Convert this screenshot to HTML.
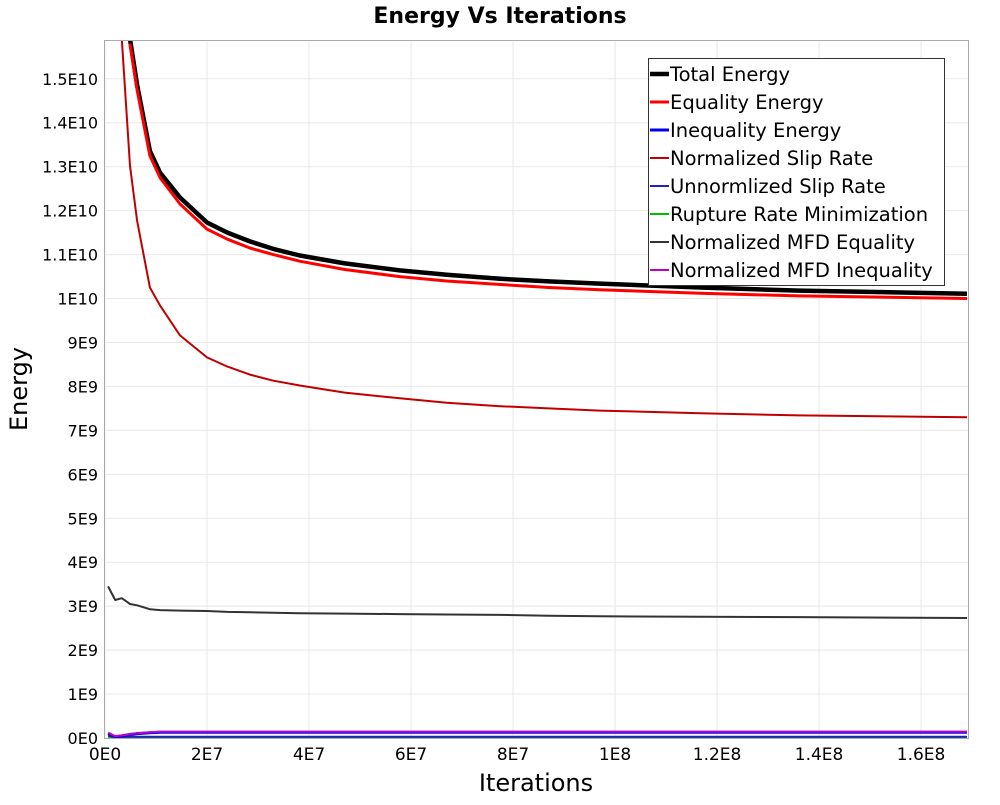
<!DOCTYPE html>
<html><head><meta charset="utf-8"><style>
body{margin:0;background:#fff;}
svg text{font-family:"DejaVu Sans","Liberation Sans",sans-serif;}
</style></head><body>
<svg id="chart" width="1000" height="800" xmlns="http://www.w3.org/2000/svg">
<rect width="1000" height="800" fill="#fff"/>
<text x="500" y="23" text-anchor="middle" font-size="22" font-weight="bold">Energy Vs Iterations</text>
<g id="grid"></g>
<g id="ticks"></g>
<g id="series"></g>
<rect x="104.5" y="40.5" width="864" height="698" fill="none" stroke="#aaa"/>
<text x="536" y="791" text-anchor="middle" font-size="24">Iterations</text>
<text transform="translate(27,389) rotate(-90)" text-anchor="middle" font-size="24">Energy</text>
<g id="legend"></g>
</svg>
<script>
const xs=[0.6,2,3.3,4.9,6.3,8.8,10.8,14.7,20,24,28.4,33,38.2,47,57.8,67,77.5,87,97,116.7,136,169];
const totalEnergy=[null,null,null,15.9,14.86,13.36,12.86,12.3,11.73,11.5,11.3,11.13,10.98,10.8,10.64,10.54,10.45,10.39,10.34,10.25,10.18,10.11];
const equalityEnergy=[null,null,null,15.8,14.75,13.25,12.75,12.15,11.58,11.35,11.15,11.0,10.85,10.66,10.5,10.4,10.32,10.25,10.2,10.12,10.06,10.0];
const normSlip=[null,null,15.9,13.02,11.77,10.25,9.84,9.16,8.66,8.45,8.27,8.13,8.02,7.86,7.73,7.63,7.55,7.5,7.45,7.39,7.34,7.3];
const mfdEq=[3.45,3.14,3.18,3.05,3.02,2.93,2.91,2.9,2.89,2.87,2.86,2.85,2.84,2.83,2.82,2.81,2.8,2.78,2.77,2.76,2.75,2.73];
const ineqEnergy=[0.1,0.03,0.05,0.08,0.1,0.12,0.13,0.13,0.13,0.13,0.13,0.13,0.13,0.13,0.13,0.13,0.13,0.13,0.13,0.13,0.13,0.13];
const mfdIneq=[0.12,0.04,0.06,0.09,0.11,0.13,0.14,0.14,0.14,0.14,0.14,0.14,0.14,0.14,0.14,0.14,0.14,0.14,0.14,0.14,0.14,0.14];
const unnormSlip=[0.05,0.02,0.02,0.03,0.03,0.03,0.03,0.03,0.03,0.03,0.03,0.03,0.03,0.03,0.03,0.03,0.03,0.03,0.03,0.03,0.03,0.03];
const ruptureRate=[0.01,0.01,0.01,0.01,0.01,0.01,0.01,0.01,0.01,0.01,0.01,0.01,0.01,0.01,0.01,0.01,0.01,0.01,0.01,0.01,0.01,0.01];
const yTicks=[0,1,2,3,4,5,6,7,8,9,10,11,12,13,14,15];
const yTickLabels=["0E0","1E9","2E9","3E9","4E9","5E9","6E9","7E9","8E9","9E9","1E10","1.1E10","1.2E10","1.3E10","1.4E10","1.5E10"];
const xTicks=[0,20,40,60,80,100,120,140,160];
const xTickLabels=["0E0","2E7","4E7","6E7","8E7","1E8","1.2E8","1.4E8","1.6E8"];
const NS="http://www.w3.org/2000/svg";
const X0=105,X1=968,Y0=738,Y1=41,XMAX=169.2,YMAX=15.86;
const sx=v=>X0+v/XMAX*(X1-X0), sy=v=>Y0-v/YMAX*(Y0-Y1);
function mk(t,a,p){const e=document.createElementNS(NS,t);for(const k in a)e.setAttribute(k,a[k]);p.appendChild(e);return e;}
const grid=document.getElementById('grid'),ticks=document.getElementById('ticks'),ser=document.getElementById('series'),leg=document.getElementById('legend');
yTicks.forEach((v,i)=>{const y=sy(v);
 const l=mk('line',{x1:X0,x2:X1,y1:y,y2:y,stroke:'#e8e8e8'},grid);
 
 
 const t=mk('text',{x:98,y:y+6,'text-anchor':'end','font-size':16},ticks);t.textContent=yTickLabels[i];
 
 
});
xTicks.forEach((v,i)=>{const x=sx(v);
 const l=mk('line',{x1:x,x2:x,y1:Y1,y2:Y0,stroke:'#e8e8e8'},grid);
 
 
 const t=mk('text',{x:x,y:760,'text-anchor':'middle','font-size':17},ticks);t.textContent=xTickLabels[i];
 
 
});
const defs=mk('defs',{},ser);const cp=mk('clipPath',{id:'cp'},defs);mk('rect',{x:X0,y:Y1,width:X1-X0,height:Y0-Y1},cp);
function line(vals,color,w,name){
 let d='',pen=false;
 vals.forEach((v,i)=>{if(v==null){pen=false;return;}
  d+=(pen?'L':'M')+sx(xs[i]).toFixed(1)+','+sy(v).toFixed(1);pen=true;});
 const p=mk('path',{d:d,fill:'none',stroke:color,'stroke-width':w,'clip-path':'url(#cp)','stroke-linejoin':'round'},ser);
 
 
}
line(ruptureRate,'#00c000',2,'rupture-rate-line');
line(unnormSlip,'#2020c0',2,'unnormalized-slip-rate-line');
line(ineqEnergy,'#0000ee',3,'inequality-energy-line');
line(mfdIneq,'#c000c0',2,'mfd-inequality-line');
line(mfdEq,'#333',2,'mfd-equality-line');
line(normSlip,'#c00000',2,'normalized-slip-rate-line');
line(totalEnergy,'#000',4.5,'total-energy-line');
line(equalityEnergy,'#ff0000',3,'equality-energy-line');
const legendNames=["Total Energy","Equality Energy","Inequality Energy","Normalized Slip Rate","Unnormlized Slip Rate","Rupture Rate Minimization","Normalized MFD Equality","Normalized MFD Inequality"];
const legendColors=["#000","#ff0000","#0000ee","#c00000","#2020c0","#00c000","#333","#c000c0"];
const legendW=[4.5,3,3,2,2,2,2,2];
mk('rect',{x:648.5,y:58.5,width:296,height:227,fill:'#fff',stroke:'#333'},leg);
legendNames.forEach((n,i)=>{const y=74+i*28;
 const g=mk('g',{},leg);
 
 
 mk('line',{x1:650,x2:669,y1:y,y2:y,stroke:legendColors[i],'stroke-width':legendW[i]},g);
 const t=mk('text',{x:670,y:y+7,'font-size':19.5},g);t.textContent=n;
});
</script>
</body></html>
